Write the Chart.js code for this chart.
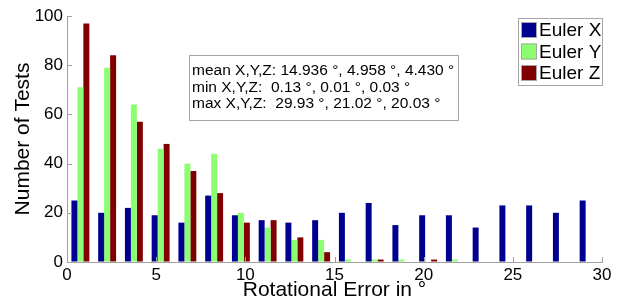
<!DOCTYPE html>
<html>
<head>
<meta charset="utf-8">
<script src="https://cdn.jsdelivr.net/npm/chart.js@4/dist/chart.umd.min.js"></script>
<style>
  html, body { margin: 0; padding: 0; background: #fff; }
  #wrap { width: 627px; height: 307px; }
</style>
</head>
<body>
<div id="wrap"><canvas id="chart" width="627" height="307"></canvas></div>
<script>
// Histogram bin centers (bin width 1.5 deg)
const binCenters = [0.75, 2.25, 3.75, 5.25, 6.75, 8.25, 9.75, 11.25, 12.75, 14.25,
                    15.75, 17.25, 18.75, 20.25, 21.75, 23.25, 24.75, 26.25, 27.75, 29.25];

const eulerX = [25, 20, 22, 19, 16, 27, 19, 17, 16, 17, 20, 24, 15, 19, 19, 14, 23, 23, 20, 25];
const eulerY = [71, 79, 64, 46, 40, 44, 20, 14, 9, 9, 1, 1, 1, 0, 1, 0, 0, 0, 0, 0];
const eulerZ = [97, 84, 57, 48, 37, 28, 16, 17, 10, 4, 0, 1, 0, 1, 0, 0, 0, 0, 0, 0];

const seriesLabels = ['Euler X', 'Euler Y', 'Euler Z'];
const seriesColors = ['#000090', '#8cff70', '#800000'];

const statsLines = [
  'mean X,Y,Z: 14.936 \u00b0, 4.958 \u00b0, 4.430 \u00b0',
  'min X,Y,Z:  0.13 \u00b0, 0.01 \u00b0, 0.03 \u00b0',
  'max X,Y,Z:  29.93 \u00b0, 21.02 \u00b0, 20.03 \u00b0'
];

const FONT = "'Liberation Sans', Arial, sans-serif";

function toPoints(values) {
  return values.map((v, i) => ({ x: binCenters[i], y: v }));
}

// inward tick marks, MATLAB style
const inwardTicks = {
  id: 'inwardTicks',
  afterDatasetsDraw(chart) {
    const { ctx, chartArea: a, scales: { x, y } } = chart;
    ctx.save();
    ctx.strokeStyle = '#a0a0a0';
    ctx.lineWidth = 1;
    ctx.beginPath();
    x.ticks.forEach(t => {
      const px = Math.round(x.getPixelForValue(t.value)) + 0.5;
      ctx.moveTo(px, a.bottom);
      ctx.lineTo(px, a.bottom - 5);
    });
    y.ticks.forEach(t => {
      const py = Math.round(y.getPixelForValue(t.value)) + 0.5;
      ctx.moveTo(a.left, py);
      ctx.lineTo(a.left + 5, py);
    });
    ctx.stroke();
    ctx.restore();
  }
};

// stats text box + legend box
const annotations = {
  id: 'annotations',
  afterDraw(chart) {
    const ctx = chart.ctx;
    ctx.save();

    // stats box
    ctx.fillStyle = '#fff';
    ctx.strokeStyle = '#a6a6a6';
    ctx.lineWidth = 1;
    ctx.fillRect(189, 55, 269, 65);
    ctx.strokeRect(189.5, 55.5, 269, 65);
    ctx.fillStyle = '#000';
    ctx.font = '15.5px ' + FONT;
    ctx.textBaseline = 'middle';
    ctx.textAlign = 'left';
    statsLines.forEach((line, i) => {
      ctx.fillText(line, 192, 71 + i * 16.5);
    });

    // legend
    ctx.fillStyle = '#fff';
    ctx.fillRect(518, 18, 84, 67);
    ctx.strokeRect(518.5, 18.5, 84, 67);
    ctx.font = '19px ' + FONT;
    chart.data.datasets.forEach((ds, i) => {
      const cy = 30 + i * 21.5;
      ctx.fillStyle = ds.backgroundColor;
      ctx.fillRect(521, cy - 8, 16, 16);
      ctx.strokeStyle = '#a6a6a6';
      ctx.strokeRect(521.5, cy - 7.5, 15, 15);
      ctx.fillStyle = '#000';
      ctx.fillText(ds.label, 539, cy + 1);
    });
    ctx.restore();
  }
};

const datasets = [eulerX, eulerY, eulerZ].map((vals, i) => ({
  label: seriesLabels[i],
  data: toPoints(vals),
  backgroundColor: seriesColors[i],
  borderWidth: 0,
  categoryPercentage: 0.67,
  barPercentage: 1.0
}));

new Chart(document.getElementById('chart'), {
  type: 'bar',
  data: { datasets: datasets },
  options: {
    responsive: false,
    animation: false,
    devicePixelRatio: 1,
    layout: { padding: { top: 16, right: 25, left: 0, bottom: 0 } },
    plugins: {
      legend: { display: false },
      tooltip: { enabled: false }
    },
    scales: {
      x: {
        type: 'linear',
        min: 0,
        max: 30,
        offset: false,
        grid: { drawOnChartArea: false, drawTicks: false },
        border: { color: '#a0a0a0' },
        ticks: { stepSize: 5, color: '#000', padding: 3, font: { family: FONT, size: 17 } },
        title: { display: true, text: 'Rotational Error in \u00b0', color: '#000',
                 padding: { top: 0, bottom: 4 },
                 font: { family: FONT, size: 21 } },
        afterFit(scale) { scale.height = 45; }
      },
      y: {
        min: 0,
        max: 100,
        grid: { drawOnChartArea: false, drawTicks: false },
        border: { color: '#a0a0a0' },
        ticks: { stepSize: 20, color: '#000', padding: 4, font: { family: FONT, size: 17 } },
        title: { display: true, text: 'Number of Tests', color: '#000',
                 padding: { top: 11, bottom: 0 },
                 font: { family: FONT, size: 21 } },
        afterFit(scale) { scale.width = 67; }
      }
    }
  },
  plugins: [inwardTicks, annotations]
});
</script>
</body>
</html>
